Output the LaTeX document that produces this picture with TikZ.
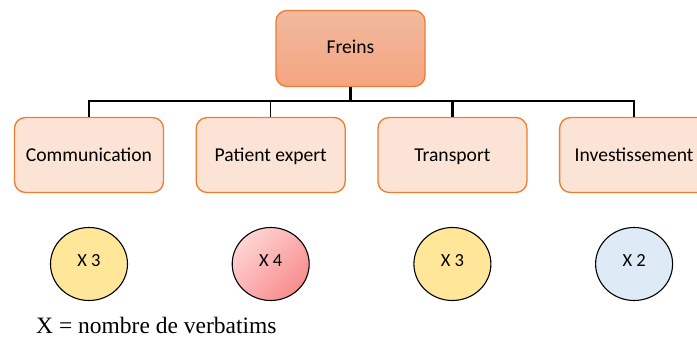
\documentclass[tikz,border=0pt]{standalone}
\usepackage{fontspec}
\setmainfont{Carlito}
\newfontfamily\legendfont{Liberation Serif}
\usepackage{tikz}
\usetikzlibrary{shapes.geometric}

\definecolor{edgeorange}{RGB}{237,125,49}
\definecolor{headtop}{RGB}{241,186,160}
\definecolor{headbot}{RGB}{245,164,128}
\definecolor{peach}{RGB}{251,228,213}
\definecolor{gold}{RGB}{255,230,153}
\definecolor{rosetop}{RGB}{255,212,212}
\definecolor{rosebot}{RGB}{248,140,140}
\definecolor{skyblue}{RGB}{222,235,247}

\begin{document}
\begin{tikzpicture}[x=1pt, y=1pt]
	\tikzstyle{head} = [draw=edgeorange, line width=1.3pt, rectangle, rounded corners=11pt, minimum width=149pt, minimum height=76pt, top color=headtop, bottom color=headbot, text height=13pt, text depth=3.4pt, font=\fontsize{19.6}{22}\selectfont]
	\tikzstyle{block} = [draw=edgeorange, line width=1.3pt, rectangle, rounded corners=11pt, minimum width=149pt, minimum height=75pt, fill=peach, text height=15pt, text depth=1.6pt, font=\fontsize{19.6}{22}\selectfont]
	\tikzstyle{count} = [draw=black, line width=1.1pt, ellipse, minimum width=77pt, minimum height=73pt, inner sep=0pt, text height=12pt, text depth=6.6pt, font=\fontsize{18.5}{20}\selectfont]

	\useasboundingbox (0,0) rectangle (697,-342);

	\node [head] (freins) at (350.5,-48.5) {Freins};
	\node [block] (comm) at (89,-155) {Communication};
	\node [block, right of=comm, node distance=181.7pt] (patient) {Patient expert};
	\node [block, right of=patient, node distance=181.7pt] (transport) {Transport};
	\node [block, right of=transport, node distance=181.7pt] (invest) {Investissement};

	\node [count, fill=gold, below of=comm, node distance=109pt] (ncomm) {X 3};
	\node [count, top color=rosetop, bottom color=rosebot, shading angle=45, below of=patient, node distance=109pt] (npatient) {X 4};
	\node [count, fill=gold, below of=transport, node distance=109pt] (ntransport) {X 3};
	\node [count, fill=skyblue, below of=invest, node distance=109pt] (ninvest) {X 2};

	\node [anchor=base west, inner sep=0pt, font=\legendfont\fontsize{23.5}{26}\selectfont] (legend) at (36,-334) {X = nombre de verbatims};

	\coordinate (hub) at (350.5,-101);
	\draw [line width=2.8pt] (freins) -- (hub);
	\draw [line width=1.5pt] (hub) -| (comm.north);
	\draw [line width=1.5pt] (hub) -| (patient.north);
	\draw [line width=2.4pt] (hub) -| (transport.north);
	\draw [line width=2.4pt] (hub) -| (invest.north);
\end{tikzpicture}
\end{document}
